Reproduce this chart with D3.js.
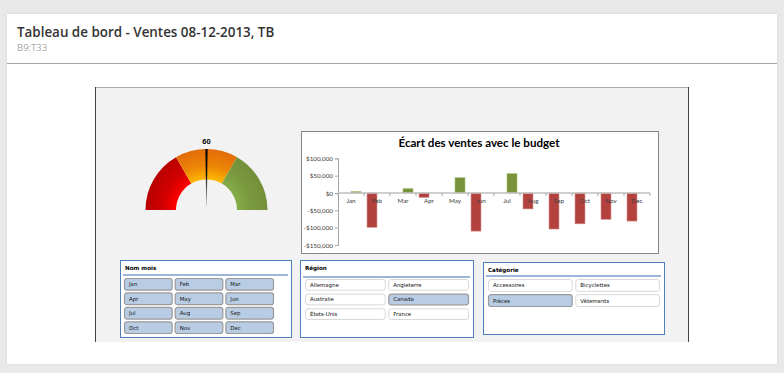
<!DOCTYPE html>
<html>
<head>
<meta charset="utf-8">
<script src="https://cdn.jsdelivr.net/npm/d3@7"></script>
<style>
  body { margin: 0; background: #e9e9e9; }
  svg { display: block; }
</style>
</head>
<body>
<script>
const width = 784;
const height = 373;

// data
const months = ["Jan", "Feb", "Mar", "Apr", "May", "Jun", "Jul", "Aug", "Sep", "Oct", "Nov", "Dec"];
const ecart = [4000, -99000, 12500, -13000, 44000, -110000, 56000, -46000, -104000, -89000, -76000, -81000];
const yTicks = [100000, 50000, 0, -50000, -100000, -150000];

const gaugeValue = 60;
const gaugeMax = 120;
const gaugeBands = [0, 40, 80, 120];

const moisItems = ["Jan", "Feb", "Mar", "Apr", "May", "Jun", "Jul", "Aug", "Sep", "Oct", "Nov", "Dec"];
const regionItems = ["Allemagne", "Angleterre", "Australie", "Canada", "États-Unis", "France"];
const categorieItems = ["Accessoires", "Bicyclettes", "Pièces", "Vêtements"];

const svg = d3.create("svg").attr("width", width).attr("height", height);
const defs = svg.append("defs");

// page card
const shadow = defs.append("filter").attr("id", "sh").attr("x", -0.05).attr("y", -0.05).attr("width", 1.1).attr("height", 1.1);
shadow.append("feDropShadow").attr("dx", 0).attr("dy", 0).attr("stdDeviation", 1).attr("flood-color", "#000").attr("flood-opacity", 0.12);
svg.append("rect").attr("x", 7).attr("y", 14).attr("width", 770).attr("height", 350).attr("fill", "#fff").attr("filter", "url(#sh)");

svg.append("text").attr("x", 17).attr("y", 37)
  .attr("font-family", "Open Sans, sans-serif").attr("font-weight", 600).attr("font-size", 13.4)
  .attr("fill", "#333").text("Tableau de bord - Ventes 08-12-2013, TB");
svg.append("text").attr("x", 17).attr("y", 51)
  .attr("font-family", "Open Sans, sans-serif").attr("font-size", 9.5)
  .attr("fill", "#a6a6a6").text("B9:T33");
svg.append("line").attr("x1", 7).attr("x2", 777).attr("y1", 63.5).attr("y2", 63.5).attr("stroke", "#a6a6a6");

// sheet area
svg.append("rect").attr("x", 95).attr("y", 87).attr("width", 594).attr("height", 255).attr("fill", "#f2f2f2");
svg.append("line").attr("x1", 95).attr("x2", 689).attr("y1", 87.5).attr("y2", 87.5).attr("stroke", "#aaa");
svg.append("line").attr("x1", 95.5).attr("x2", 95.5).attr("y1", 87).attr("y2", 342).attr("stroke", "#444");
svg.append("line").attr("x1", 688.5).attr("x2", 688.5).attr("y1", 87).attr("y2", 342).attr("stroke", "#444");

// ---- gauge ----
const gcx = 206.5, gcy = 210, rIn = 30.5, rOut = 61;
const angle = d3.scaleLinear([0, gaugeMax], [-Math.PI / 2, Math.PI / 2]);
// inner colour, outer colour per band
const gaugeColors = [["#ff0000", "#b80000"], ["#fdb800", "#e36c09"], ["#85ad48", "#74903a"]];
gaugeColors.forEach((c, i) => {
  // gradient space is the translated gauge group, so centre is 0,0
  const g = defs.append("radialGradient").attr("id", "gg" + i)
    .attr("gradientUnits", "userSpaceOnUse").attr("cx", 0).attr("cy", 0).attr("r", rOut);
  g.append("stop").attr("offset", rIn / rOut).attr("stop-color", c[0]);
  g.append("stop").attr("offset", 0.72).attr("stop-color", d3.interpolateRgb(c[0], c[1])(0.65));
  g.append("stop").attr("offset", 1).attr("stop-color", c[1]);
});
const arc = d3.arc().innerRadius(rIn).outerRadius(rOut);
const gauge = svg.append("g").attr("transform", `translate(${gcx},${gcy})`);
gauge.selectAll("path.band")
  .data(d3.pairs(gaugeBands))
  .join("path")
  .attr("class", "band")
  .attr("d", (d) => arc({ startAngle: angle(d[0]), endAngle: angle(d[1]) }))
  .attr("fill", (d, i) => `url(#gg${i})`);

const needleGrad = defs.append("linearGradient").attr("id", "ng").attr("x1", 0).attr("y1", 0).attr("x2", 0).attr("y2", 1);
needleGrad.append("stop").attr("offset", 0).attr("stop-color", "#000");
needleGrad.append("stop").attr("offset", 0.45).attr("stop-color", "#111");
needleGrad.append("stop").attr("offset", 1).attr("stop-color", "#bbb");
const needleDeg = angle(gaugeValue) * 180 / Math.PI;
gauge.append("path")
  .attr("d", `M-1.1,${-rOut} L1.1,${-rOut} L0.3,-4 L-0.3,-4 Z`)
  .attr("fill", "url(#ng)")
  .attr("transform", `rotate(${needleDeg})`);
gauge.append("text")
  .attr("transform", `rotate(${needleDeg}) translate(0,${-rOut - 5})`)
  .attr("text-anchor", "middle")
  .attr("font-family", "Liberation Sans, Arial, sans-serif").attr("font-weight", 700).attr("font-size", 7.5)
  .attr("fill", "#000").text(gaugeValue);

// ---- bar chart ----
svg.append("rect").attr("x", 301.5).attr("y", 131.5).attr("width", 357).attr("height", 122)
  .attr("fill", "#fff").attr("stroke", "#868686");
svg.append("text").attr("x", 479).attr("y", 147)
  .attr("text-anchor", "middle")
  .attr("font-family", "Lato, Carlito, sans-serif").attr("font-weight", 700).attr("font-size", 11.6)
  .attr("fill", "#000").text("Écart des ventes avec le budget");

const x = d3.scaleBand(months, [338, 650]);
const x1 = d3.scaleBand(["neg", "pos"], [0, x.bandwidth()]).paddingOuter(0.3);
const y = d3.scaleLinear([-150000, 100000], [245, 158.3]);
const money = d3.format(",");
const fmt = (v) => (v < 0 ? "-$" : "$") + money(Math.abs(v));

const yAxis = svg.append("g").attr("transform", "translate(338,0)")
  .call(d3.axisLeft(y).tickValues(yTicks).tickFormat(fmt).tickSize(3));
yAxis.select(".domain").attr("stroke", "#a6a6a6");
yAxis.selectAll(".tick line").attr("stroke", "#a6a6a6");
yAxis.selectAll(".tick text").attr("font-family", "Lato, sans-serif").attr("font-size", 6.3).attr("fill", "#404040").attr("x", -5);

svg.append("g").selectAll("rect")
  .data(months.map((m, i) => ({ m, v: ecart[i] })))
  .join("rect")
  .attr("x", (d) => x(d.m) + x1(d.v < 0 ? "neg" : "pos"))
  .attr("width", x1.bandwidth())
  .attr("y", (d) => y(Math.max(0, d.v)))
  .attr("height", (d) => Math.abs(y(d.v) - y(0)))
  .attr("fill", (d) => (d.v < 0 ? "#b3423f" : "#77933c"))
  .attr("stroke", (d) => (d.v < 0 ? "#d99694" : "#a7c077"))
  .attr("stroke-width", 0.6);

const xAxis = svg.append("g").attr("transform", `translate(0,${y(0)})`);
xAxis.append("line").attr("x1", x.range()[0]).attr("x2", x.range()[1])
  .attr("stroke", "#bfbfbf").attr("stroke-width", 1.6);
xAxis.selectAll("line.tk")
  .data(months.concat(["end"]))
  .join("line")
  .attr("class", "tk")
  .attr("x1", (d, i) => x.range()[0] + i * x.step())
  .attr("x2", (d, i) => x.range()[0] + i * x.step())
  .attr("y1", 0).attr("y2", 3)
  .attr("stroke", "#a6a6a6");
xAxis.selectAll("text")
  .data(months)
  .join("text")
  .attr("x", (d) => x(d) + x.bandwidth() / 2)
  .attr("y", 10.5)
  .attr("text-anchor", "middle")
  .attr("font-family", "Lato, sans-serif").attr("font-size", 6.3).attr("fill", "#404040")
  .text((d) => d);

// ---- slicers ----
function slicer(opts) {
  const g = svg.append("g");
  g.append("rect").attr("x", opts.x + 0.5).attr("y", opts.y + 0.5).attr("width", opts.w).attr("height", opts.h)
    .attr("fill", "#fff").attr("stroke", "#4f7fbd");
  g.append("text").attr("x", opts.x + 5).attr("y", opts.y + 10)
    .attr("font-family", "DejaVu Sans, sans-serif").attr("font-weight", 700).attr("font-size", 5.6)
    .attr("fill", "#000").text(opts.title);
  g.append("line").attr("x1", opts.x + 3).attr("x2", opts.x + opts.w - 3)
    .attr("y1", opts.lineY).attr("y2", opts.lineY).attr("stroke", "#7b9ccd").attr("stroke-width", 1.3);
  const rows = Math.ceil(opts.items.length / opts.cols);
  const cx = d3.scaleBand(d3.range(opts.cols), [opts.bx0, opts.bx1]).paddingInner(opts.padX);
  const cy = d3.scaleBand(d3.range(rows), [opts.by0, opts.by1]).paddingInner(opts.padY);
  const btn = g.selectAll("g.btn")
    .data(opts.items)
    .join("g")
    .attr("class", "btn")
    .attr("transform", (d, i) => `translate(${cx(i % opts.cols)},${cy(Math.floor(i / opts.cols))})`);
  btn.append("rect")
    .attr("x", 0.5).attr("y", 0.5)
    .attr("width", cx.bandwidth() - 1).attr("height", cy.bandwidth() - 1)
    .attr("rx", 2.5)
    .attr("fill", (d) => (opts.selected.includes(d) ? "#b8cce4" : "#fff"))
    .attr("stroke", (d) => (opts.selected.includes(d) ? "#9a9a9a" : "#d4d4d4"))
    .attr("stroke-width", (d) => (opts.selected.includes(d) ? 1.2 : 0.9));
  btn.append("text")
    .attr("x", 5).attr("y", cy.bandwidth() / 2 + 2)
    .attr("font-family", "DejaVu Sans, sans-serif").attr("font-size", 5.4)
    .attr("fill", "#111")
    .text((d) => d);
}

slicer({
  x: 120, y: 260, w: 171, h: 77, title: "Nom mois", lineY: 275,
  items: moisItems, cols: 3, selected: moisItems,
  bx0: 124, bx1: 274, by0: 278, by1: 334, padX: 0.04, padY: 0.12
});
slicer({
  x: 300, y: 260, w: 173, h: 77, title: "Région", lineY: 277,
  items: regionItems, cols: 2, selected: ["Canada"],
  bx0: 305, bx1: 469, by0: 279, by1: 320, padX: 0.03, padY: 0.2
});
slicer({
  x: 483, y: 262, w: 181, h: 72, title: "Catégorie", lineY: 276,
  items: categorieItems, cols: 2, selected: ["Pièces"],
  bx0: 488, bx1: 660, by0: 279, by1: 307, padX: 0.03, padY: 0.15
});

document.body.appendChild(svg.node());
</script>
</body>
</html>
